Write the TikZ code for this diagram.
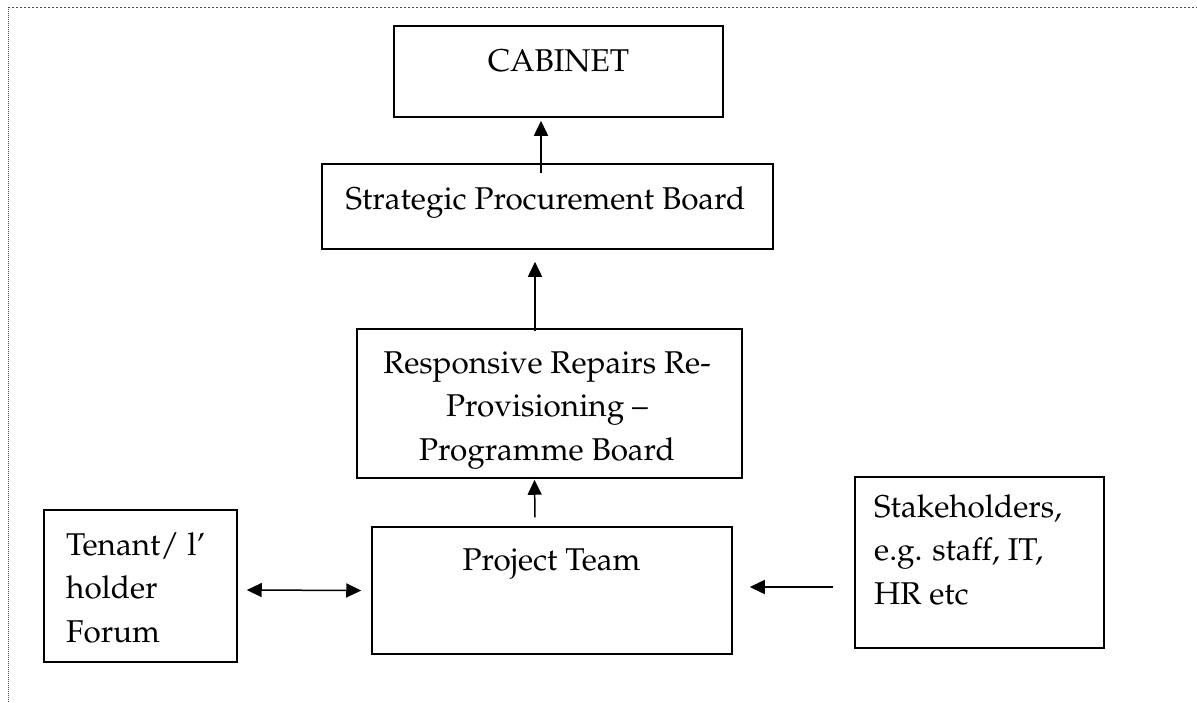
\documentclass[tikz,border=0pt]{standalone}
\usepackage[T1]{fontenc}
\usepackage{mathpazo}
\usetikzlibrary{arrows.meta,calc}

\tikzset{
  box/.style={draw=black, line width=1.5pt, rectangle, inner sep=0pt},
  txt/.style={inner sep=0pt, font=\fontsize{31.5}{43.5}\selectfont},
  link/.style={line width=1.5pt, -{Triangle[length=15pt,width=14pt]}},
  link2/.style={line width=1.5pt, {Triangle[length=15pt,width=14pt]}-{Triangle[length=15pt,width=14pt]}},
  frame/.style={line width=1pt, draw=black!70}
}
\newcommand{\lines}[2]{\begin{tabular}[t]{@{}#1@{}}#2\end{tabular}}

\begin{document}
\begin{tikzpicture}[x=1pt,y=-1pt]
  \useasboundingbox (0,0) rectangle (1197,702);

  % page frame, dotted along the top and left
  \draw[frame, dash pattern=on 2pt off 2pt] (8,7) -- (1197,7);
  \draw[frame, dash pattern=on 1pt off 1pt] (8,7) -- (8,702);

  % boxes
  \node[box, minimum width=329pt, minimum height=91pt]  (cab)   at (558.5,71.5) {};
  \node[box, minimum width=451pt, minimum height=85pt]  (spb)   at (547.5,206.5) {};
  \node[box, minimum width=385pt, minimum height=149pt] (rrr)   at (549.5,403.5) {};
  \node[box, minimum width=360pt, minimum height=127pt] (proj)  at (552,590.5) {};
  \node[box, minimum width=193pt, minimum height=152pt] (ten)   at (140.5,586) {};
  \node[box, minimum width=249pt, minimum height=171pt] (stake) at (979.5,562.5) {};

  % labels
  \node[txt, anchor=base] (cabT) at (558.5,71) {CABINET};
  \node[txt, anchor=base] (spbT) at (545.5,209) {Strategic Procurement Board};
  \node[txt, anchor=base] (rrrT) at (547,373) {\lines{c}{Responsive Repairs Re-\\Provisioning --\\Programme Board}};
  \node[txt, anchor=base] (projT) at (551.5,570) {Project Team};
  \node[txt, anchor=base west] (tenT) at (66,555) {\lines{l}{Tenant/ l'\\holder\\Forum}};
  \node[txt, anchor=base west] (stakeT) at (874,517) {\lines{l}{Stakeholders,\\e.g. staff, IT,\\HR etc}};

  % connector end points
  \coordinate (a1s) at ([xshift=-6.5pt,yshift=-10pt]spb.north);
  \coordinate (a1e) at ([xshift=-17.5pt,yshift=-3pt]cab.south);
  \coordinate (a2s) at ([xshift=-14.5pt,yshift=-3pt]rrr.north);
  \coordinate (a2e) at ([xshift=-12.5pt,yshift=-12pt]spb.south);
  \coordinate (a3s) at ([xshift=-17pt,yshift=9pt]proj.north);
  \coordinate (a3e) at ([xshift=-15pt,yshift=-1pt]rrr.south);
  \coordinate (a4s) at ([xshift=9pt,yshift=-4pt]ten.east);
  \coordinate (a4e) at ([xshift=-10pt]proj.west);
  \coordinate (a5s) at ([xshift=-21pt,yshift=-24.5pt]stake.west);
  \coordinate (a5e) at ([xshift=17pt,yshift=3.5pt]proj.east);

  % connectors
  \draw[link] (a1s) -- (a1e);
  \draw[link] (a2s) -- (a2e);
  \draw[link] (a3s) -- (a3e);
  \draw[link2] (a4s) -- (a4e);
  \draw[link] (a5s) -- (a5e);
\end{tikzpicture}
\end{document}
